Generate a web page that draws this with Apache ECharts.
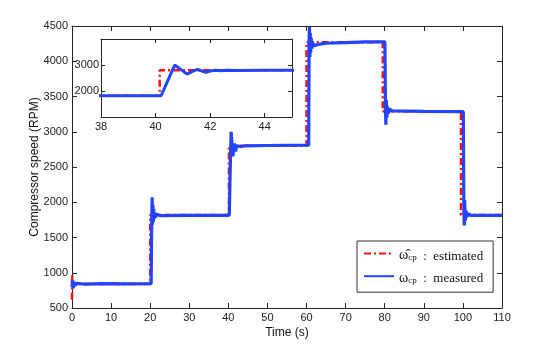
<!DOCTYPE html>
<html>
<head>
<meta charset="utf-8">
<script src="https://cdn.jsdelivr.net/npm/echarts@6/dist/echarts.min.js"></script>
<style>
  html, body { margin: 0; padding: 0; background: #fff; }
  #chart { width: 554px; height: 347px; }
</style>
</head>
<body>
<div id="chart"></div>
<script>
// measured compressor speed (blue)
var measTime = [0, 0.15, 0.3, 0.5, 0.8, 1.2, 3, 8, 14, 20.25,
    20.4, 20.5, 20.6, 20.7, 20.8, 20.9, 21.0, 21.2, 21.4, 21.7, 22.5, 30, 40.2,
    40.25, 40.45, 40.7, 40.9, 41.15, 41.35, 41.53, 41.7, 41.85, 42.0, 42.2, 42.4, 42.6, 43, 44, 50, 60.55,
    60.65, 60.75, 60.85, 60.95, 61.05, 61.2, 61.4, 61.6, 62, 63, 65, 70, 75, 80.05,
    80.2, 80.3, 80.4, 80.55, 80.7, 80.9, 81.2, 82, 90, 100.1,
    100.25, 100.35, 100.45, 100.6, 100.8, 101.0, 101.3, 102, 110];
var measRpm = [800, 900, 780, 870, 820, 850, 840, 845, 842, 845,
    1800, 2070, 1680, 1960, 1720, 1900, 1760, 1850, 1790, 1830, 1810, 1815, 1815,
    1850, 2400, 3000, 2850, 2650, 2750, 2835, 2770, 2720, 2770, 2800, 2780, 2800, 2790, 2800, 2805, 2810,
    4300, 4490, 4060, 4400, 4120, 4330, 4180, 4260, 4220, 4240, 4255, 4265, 4275, 4275,
    3300, 3100, 3450, 3200, 3360, 3260, 3320, 3295, 3290, 3285,
    1850, 1670, 2030, 1740, 1880, 1790, 1840, 1815, 1815];

// estimated compressor speed (red)
var estTime = [0, 0.05, 0.1, 20, 20, 40.15, 40.15, 60, 60, 79.5, 79.5, 99.5, 99.5, 110];
var estRpm = [620, 970, 840, 840, 1820, 1820, 2800, 2800, 4270, 4270, 3290, 3290, 1820, 1820];

var xTicks = [0, 110, 10];
var yTicks = [500, 4500, 500];
var insetXTicks = [38, 45, 2];
var insetYTicks = [1000, 4000, 1000];

function pairs(xs, ys) {
    var out = [];
    for (var i = 0; i < xs.length; i++) {
        out.push([xs[i], ys[i]]);
    }
    return out;
}

var measData = pairs(measTime, measRpm);
var estData = pairs(estTime, estRpm);

var axisColor = '#262626';
var labelStyle = { color: '#222', fontSize: 11, fontFamily: 'Liberation Sans' };

function mkAxis(pos, grid, range, showLabel, z) {
    return {
        type: 'value',
        gridIndex: grid,
        position: pos,
        min: range[0],
        max: range[1],
        interval: range[2],
        splitLine: { show: false },
        axisLine: { show: true, onZero: false, lineStyle: { color: axisColor, width: 1 } },
        axisTick: { show: true, inside: true, length: 5, lineStyle: { color: axisColor } },
        axisLabel: Object.assign({
            show: showLabel, margin: 5,
            formatter: function (v) { return String(v); }
        }, labelStyle),
        z: z
    };
}

var xMain = mkAxis('bottom', 0, xTicks, true, 1);
xMain.name = 'Time (s)';
xMain.nameLocation = 'middle';
xMain.nameGap = 19;
xMain.nameMoveOverlap = false;
xMain.nameTextStyle = { fontSize: 12, color: '#111', fontFamily: 'Liberation Sans' };
xMain.axisLabel.margin = 4;

var yMain = mkAxis('left', 0, yTicks, true, 1);
yMain.name = 'Compressor speed (RPM)';
yMain.nameLocation = 'middle';
yMain.nameGap = 31;
yMain.nameMoveOverlap = false;
yMain.nameTextStyle = { fontSize: 12, color: '#111', fontFamily: 'Liberation Sans' };
yMain.axisLabel.margin = 4;

var xInset = mkAxis('bottom', 1, insetXTicks, true, 6);
xInset.axisLabel.showMaxLabel = false;
xInset.axisLabel.margin = 4;
xInset.axisTick.length = 4;
var xInsetTop = mkAxis('top', 1, insetXTicks, false, 6);
xInsetTop.axisTick.length = 4;
var yInset = mkAxis('left', 1, insetYTicks, true, 6);
yInset.axisLabel.showMaxLabel = false;
yInset.axisLabel.showMinLabel = false;
yInset.axisLabel.margin = 2;
yInset.axisTick.length = 4;
var yInsetRight = mkAxis('right', 1, insetYTicks, false, 6);
yInsetRight.axisTick.length = 4;

var serif = 'Liberation Serif';
var rich = {
    w: { fontFamily: serif, fontSize: 14, lineHeight: 18, verticalAlign: 'bottom', color: '#111' },
    s: { fontFamily: serif, fontSize: 9, lineHeight: 11, verticalAlign: 'bottom', color: '#111' },
    t: { fontFamily: serif, fontSize: 13, lineHeight: 18, verticalAlign: 'bottom', color: '#111' }
};

var option = {
    animation: false,
    backgroundColor: '#fff',
    grid: [
        { left: 72, top: 26, width: 430, height: 282, containLabel: false },
        { left: 101, top: 39, width: 191, height: 78, show: true, backgroundColor: '#fff',
          borderWidth: 0, z: 5 }
    ],
    legend: {
        left: 357,
        top: 241,
        orient: 'vertical',
        itemWidth: 30,
        itemHeight: 14,
        itemGap: 8,
        padding: [7, 10, 7, 6],
        borderColor: '#333',
        borderWidth: 1,
        backgroundColor: '#fff',
        itemStyle: { opacity: 0 },
        data: ['est', 'meas'],
        formatter: function (name) {
            if (name === 'est') {
                return '{w|\u03c9\u0302}{s|cp}{t|  :  estimated}';
            }
            return '{w|\u03c9}{s|cp}{t|  :  measured}';
        },
        textStyle: { rich: rich }
    },
    xAxis: [
        xMain,
        mkAxis('top', 0, xTicks, false, 1),
        xInset,
        xInsetTop
    ],
    yAxis: [
        yMain,
        mkAxis('right', 0, yTicks, false, 1),
        yInset,
        yInsetRight
    ],
    series: [
        {
            name: 'est', type: 'line', xAxisIndex: 0, yAxisIndex: 0,
            data: estData, showSymbol: false, symbol: 'none',
            lineStyle: { color: '#ff1010', width: 2.5, type: [7, 3, 2, 3] },
            itemStyle: { color: '#ff1010' },
            z: 2
        },
        {
            name: 'meas', type: 'line', xAxisIndex: 0, yAxisIndex: 0,
            data: measData, showSymbol: false, symbol: 'none',
            lineStyle: { color: '#2343ff', width: 3.2 },
            itemStyle: { color: '#2343ff' },
            z: 3
        },
        {
            name: 'est', type: 'line', xAxisIndex: 2, yAxisIndex: 2,
            data: estData, showSymbol: false, symbol: 'none', clip: true,
            lineStyle: { color: '#ff1010', width: 2.5, type: [7, 3, 2, 3] },
            z: 7
        },
        {
            name: 'meas', type: 'line', xAxisIndex: 2, yAxisIndex: 2,
            data: measData, showSymbol: false, symbol: 'none', clip: true,
            lineStyle: { color: '#2343ff', width: 3 },
            z: 8
        }
    ]
};

var myChart = echarts.init(document.getElementById('chart'));
myChart.setOption(option);
</script>
</body>
</html>
